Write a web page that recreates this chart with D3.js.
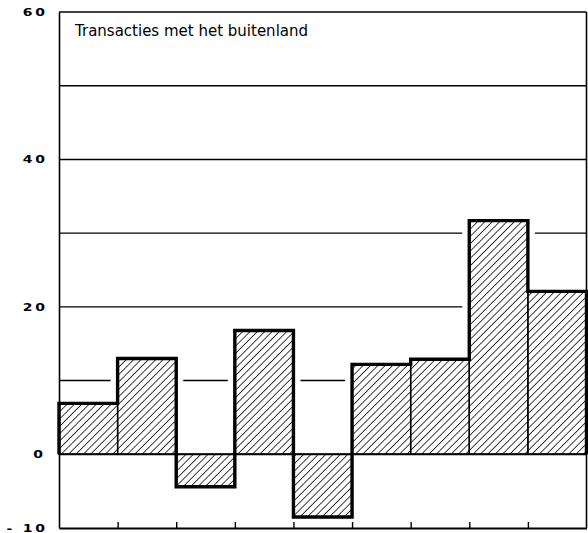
<!DOCTYPE html>
<html>
<head>
<meta charset="utf-8">
<script src="https://cdn.jsdelivr.net/npm/d3@7"></script>
<style>
  html, body { margin: 0; padding: 0; background: #fff; }
  svg { display: block; }
</style>
</head>
<body>
<svg id="chart" width="588" height="533"></svg>
<script>
// Saldo van de transacties met het buitenland, per periode
const periods = ["1", "2", "3", "4", "5", "6", "7", "8", "9"];
const balance = [6.9, 13.0, -4.4, 16.8, -8.5, 12.2, 12.9, 31.7, 22.1];
const gridValues = [10, 20, 30, 40, 50];
const yTickValues = [60, 40, 20, 0, -10];
const yTickLabels = ["60", "40", "20", "0", "- 10"];
const title = "Transacties met het buitenland";

const plotLeft = 59, plotRight = 586.5, plotTop = 12, plotBottom = 528;

const svg = d3.select("#chart");

const y = d3.scaleLinear().domain([-10, 60]).range([plotBottom, plotTop]);
const x = d3.scaleBand().domain(periods).range([plotLeft, plotRight]).padding(0);
const xEdge = d3.scaleLinear().domain([0, periods.length]).range([plotLeft, plotRight]);

// diagonal hatching
const defs = svg.append("defs");
defs.append("pattern")
  .attr("id", "hatch")
  .attr("patternUnits", "userSpaceOnUse")
  .attr("width", 5.2)
  .attr("height", 10)
  .attr("patternTransform", "rotate(45)")
  .append("line")
  .attr("x1", 0).attr("y1", 0).attr("x2", 0).attr("y2", 10)
  .attr("stroke", "#000").attr("stroke-width", 1.5);

// horizontal grid lines
svg.append("g").selectAll("line").data(gridValues).join("line")
  .attr("x1", plotLeft).attr("x2", plotRight)
  .attr("y1", d => y(d)).attr("y2", d => y(d))
  .attr("stroke", "#000").attr("stroke-width", 1.4);

// white margin around the bars so grid lines stop short of them
const pad = 7;
svg.append("g").selectAll("rect").data(balance).join("rect")
  .attr("x", (d, i) => x(periods[i]) - pad)
  .attr("width", x.bandwidth() + 2 * pad)
  .attr("y", d => Math.min(y(d), y(0)) - pad)
  .attr("height", d => Math.abs(y(d) - y(0)) + 2 * pad)
  .attr("fill", "#fff");

// hatched bars with thin dividers
svg.append("g").selectAll("rect").data(balance).join("rect")
  .attr("x", (d, i) => x(periods[i]))
  .attr("width", x.bandwidth())
  .attr("y", d => Math.min(y(d), y(0)))
  .attr("height", d => Math.abs(y(d) - y(0)))
  .attr("fill", "url(#hatch)")
  .attr("stroke", "#000").attr("stroke-width", 1.4);

// zero line
svg.append("line")
  .attr("x1", plotLeft).attr("x2", plotRight)
  .attr("y1", y(0)).attr("y2", y(0))
  .attr("stroke", "#000").attr("stroke-width", 2);

// heavy step outline of the series
const steps = [[xEdge(0), y(0)]];
balance.forEach((v, i) => {
  steps.push([xEdge(i), y(v)]);
  steps.push([xEdge(i + 1), y(v)]);
});
steps.push([xEdge(periods.length), y(0)]);
svg.append("path")
  .attr("d", d3.line()(steps))
  .attr("fill", "none")
  .attr("stroke", "#000").attr("stroke-width", 3.4)
  .attr("stroke-linejoin", "miter");

// frame: top and right
svg.append("line")
  .attr("x1", plotLeft).attr("x2", plotRight).attr("y1", plotTop).attr("y2", plotTop)
  .attr("stroke", "#000").attr("stroke-width", 1.6);
svg.append("line")
  .attr("x1", plotRight).attr("x2", plotRight).attr("y1", plotTop).attr("y2", plotBottom)
  .attr("stroke", "#000").attr("stroke-width", 1.6);

// bottom axis with inward ticks at period boundaries
const xAxis = d3.axisBottom(xEdge)
  .tickValues(d3.range(1, periods.length))
  .tickSize(-6).tickSizeOuter(0).tickFormat("");
const gx = svg.append("g").attr("transform", `translate(0,${plotBottom})`).call(xAxis);
gx.select(".domain").attr("stroke", "#000").attr("stroke-width", 1.8);
gx.selectAll(".tick line").attr("stroke", "#000").attr("stroke-width", 1.4);

// left axis with wide, letter-spaced value labels
const stretch = 1.4, spacing = 2;
const yAxis = d3.axisLeft(y)
  .tickValues(yTickValues)
  .tickSize(0).tickSizeOuter(0)
  .tickFormat((d, i) => yTickLabels[i]);
const gy = svg.append("g").attr("transform", `translate(${plotLeft},0)`).call(yAxis);
gy.select(".domain").attr("stroke", "#000").attr("stroke-width", 1.6);
gy.selectAll(".tick text")
  .attr("fill", "#000")
  .attr("text-anchor", "end")
  .attr("x", d => (d === 0 ? -16 + spacing * stretch : -14 + spacing * stretch) / stretch)
  .attr("transform", `scale(${stretch},1)`)
  .style("font-family", "'DejaVu Sans', sans-serif")
  .style("font-weight", "bold")
  .style("font-size", "10px")
  .style("letter-spacing", `${spacing}px`);

// title inside the plot
svg.append("text")
  .attr("x", 75).attr("y", 35.5)
  .attr("fill", "#000")
  .style("font-family", "'DejaVu Sans', sans-serif")
  .style("font-size", "15px")
  .text(title);
</script>
</body>
</html>
